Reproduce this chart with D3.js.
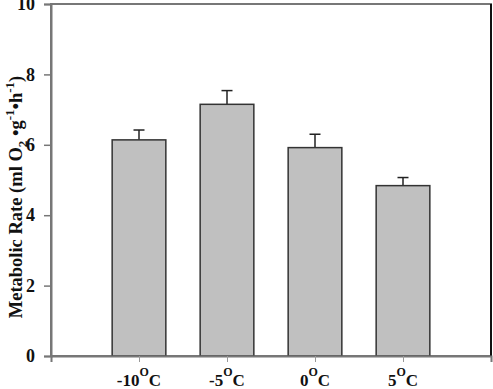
<!DOCTYPE html>
<html>
<head>
<meta charset="utf-8">
<script src="https://cdn.jsdelivr.net/npm/d3@7"></script>
<style>
  body { margin: 0; background: #fff; }
  svg text { font-family: "Liberation Serif", "Times New Roman", Times, serif; font-weight: 700; }
</style>
</head>
<body>
<div class="chart-wrapper"></div>
<script>
const temps = ["-10", "-5", "0", "5"];
const rates = [6.14, 7.15, 5.92, 4.84];
const errTops = [6.42, 7.54, 6.30, 5.07];
const yTicks = [0, 2, 4, 6, 8, 10];

const width = 493, height = 389;
const plotL = 51, plotR = 491, plotT = 4, plotB = 356;

let svg = d3.select(".chart-wrapper")
  .append("svg")
  .attr("width", width)
  .attr("height", height);

// x positions 1..4 on a 0..5 axis
let x = d3.scaleLinear().domain([0, 5]).range([plotL, plotR]);
let y = d3.scaleLinear().domain([0, 10]).range([plotB, plotT]);
const barW = (x(1) - x(0)) * 0.61;

// frame
svg.append("rect")
  .attr("x", plotL).attr("y", plotT)
  .attr("width", plotR - plotL).attr("height", plotB - plotT)
  .attr("fill", "none").attr("stroke", "#777").attr("stroke-width", 2);
svg.append("line")
  .attr("x1", plotR).attr("x2", plotR).attr("y1", plotT).attr("y2", plotB)
  .attr("stroke", "#111").attr("stroke-width", 2);

// error bars (drawn first so the bar covers the lower half)
svg.selectAll(".err")
  .data(temps)
  .enter()
  .append("g")
  .each(function (d, i) {
    let g = d3.select(this);
    let cx = x(i + 1);
    g.append("line")
      .attr("x1", cx).attr("x2", cx)
      .attr("y1", y(rates[i])).attr("y2", y(errTops[i]))
      .attr("stroke", "#222").attr("stroke-width", 1.5);
    g.append("line")
      .attr("x1", cx - 5.5).attr("x2", cx + 5.5)
      .attr("y1", y(errTops[i])).attr("y2", y(errTops[i]))
      .attr("stroke", "#222").attr("stroke-width", 1.5);
  });

svg.selectAll(".bar")
  .data(rates)
  .enter()
  .append("rect")
  .attr("x", (d, i) => x(i + 1) - barW / 2)
  .attr("y", d => y(d))
  .attr("width", barW)
  .attr("height", d => y(0) - y(d))
  .attr("fill", "#c0c0c0")
  .attr("stroke", "#333")
  .attr("stroke-width", 1.5);

// y axis
let yAxis = svg.append("g")
  .attr("transform", `translate(${plotL},0)`)
  .call(d3.axisLeft(y).tickValues(yTicks).tickSize(7).tickPadding(9).tickFormat(d3.format("d")));
yAxis.attr("font-family", null).attr("font-size", null);
yAxis.select(".domain").attr("stroke", "#777").attr("stroke-width", 2);
yAxis.selectAll(".tick line").attr("stroke", "#777").attr("stroke-width", 1.5);
yAxis.selectAll(".tick text")
  .attr("font-size", 18).attr("fill", "#111");

// x axis
let xAxis = svg.append("g")
  .attr("transform", `translate(0,${plotB})`)
  .call(d3.axisBottom(x).tickValues([1, 2, 3, 4]).tickSize(6).tickFormat(""));
xAxis.select(".domain").attr("stroke", "#777").attr("stroke-width", 2);
xAxis.selectAll(".tick line").attr("stroke", "#999").attr("stroke-width", 1);

let xl = svg.selectAll(".xlab")
  .data(temps)
  .enter()
  .append("text")
  .attr("x", (d, i) => x(i + 1))
  .attr("y", 386)
  .attr("text-anchor", "middle")
  .attr("font-size", 17)
  .attr("fill", "#111");
xl.append("tspan").text(d => d);
xl.append("tspan").attr("dy", -10).attr("font-size", 12).text("O");
xl.append("tspan").attr("dy", 10).text("C");

// y label
let yl = svg.append("text")
  .attr("transform", "translate(22,197) rotate(-90)")
  .attr("text-anchor", "middle")
  .attr("font-size", 18.5)
  .attr("fill", "#111");
yl.append("tspan").text("Metabolic Rate (ml O");
yl.append("tspan").attr("dy", 5).attr("font-size", 13).text("2");
yl.append("tspan").attr("dy", -5).text(" \u2022g");
yl.append("tspan").attr("dy", -8).attr("font-size", 13).text("-1");
yl.append("tspan").attr("dy", 8).text("\u2022h");
yl.append("tspan").attr("dy", -8).attr("font-size", 13).text("-1");
yl.append("tspan").attr("dy", 8).text(")");
</script>
</body>
</html>
